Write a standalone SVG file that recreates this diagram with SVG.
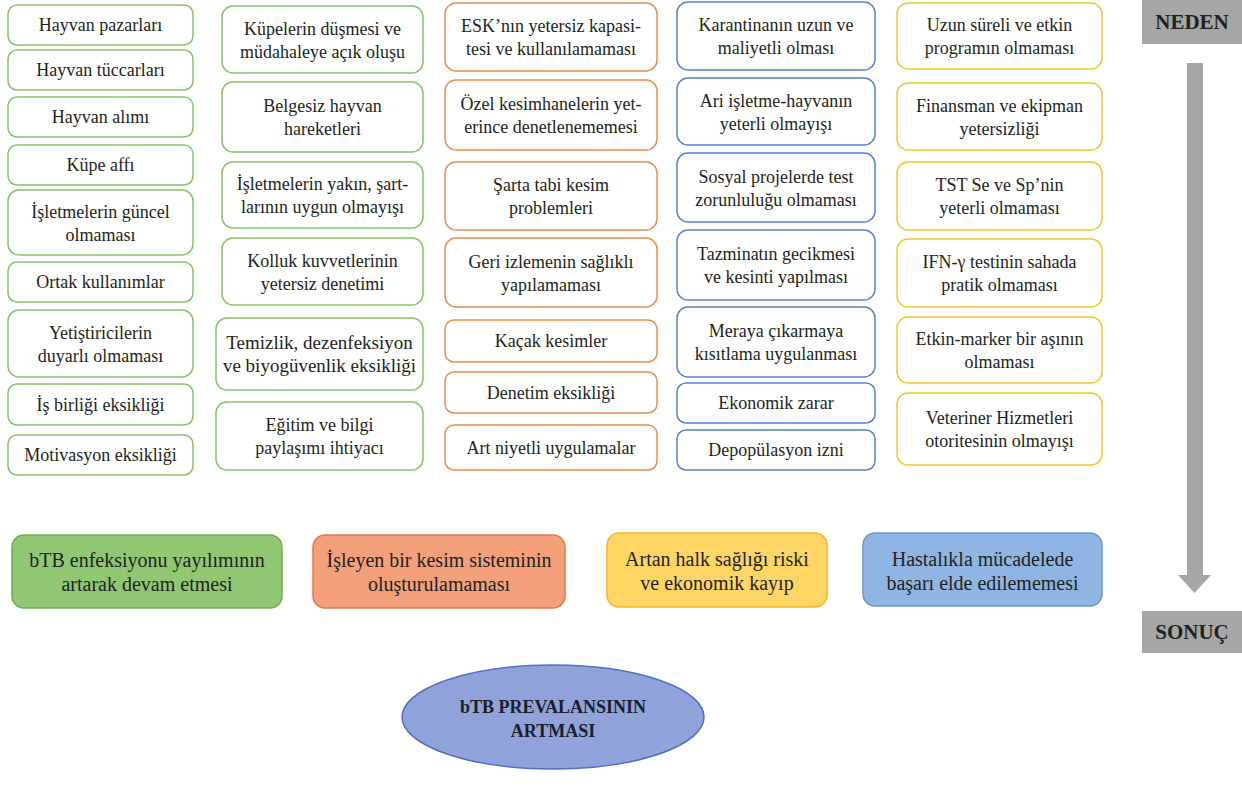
<svg xmlns="http://www.w3.org/2000/svg" width="1242" height="787" viewBox="0 0 1242 787">
<style>
text{font-family:"Liberation Serif","Times New Roman",serif;fill:#231f20;text-anchor:middle}
.t{font-size:18px}
.t2{font-size:19px}
.b{font-size:20px}
.h{font-size:21px;font-weight:bold}
.e{font-size:18px;font-weight:bold;fill:#1c1c2e}
rect.n{fill:#fff;stroke-width:1.5}
.g{stroke:#88c266}
.o{stroke:#ee8c4a}
.u{stroke:#5b80cf}
.y{stroke:#f2c629}
</style>
<rect width="1242" height="787" fill="#fff"/>
<g id="col1">
<g id="n1_1"><rect class="n g" x="8" y="5" width="185" height="40" rx="9"/><text class="t" x="100.5" y="31">Hayvan pazarları</text></g>
<g id="n1_2"><rect class="n g" x="8" y="50" width="185" height="40" rx="9"/><text class="t" x="100.5" y="76">Hayvan tüccarları</text></g>
<g id="n1_3"><rect class="n g" x="8" y="97" width="185" height="40" rx="9"/><text class="t" x="100.5" y="123">Hayvan alımı</text></g>
<g id="n1_4"><rect class="n g" x="8" y="145" width="185" height="40" rx="9"/><text class="t" x="100.5" y="171">Küpe affı</text></g>
<g id="n1_5"><rect class="n g" x="8" y="190" width="185" height="65" rx="11"/><text class="t" x="100.5" y="217.5">İşletmelerin güncel</text><text class="t" x="100.5" y="240.5">olmaması</text></g>
<g id="n1_6"><rect class="n g" x="8" y="262" width="185" height="40" rx="9"/><text class="t" x="100.5" y="288">Ortak kullanımlar</text></g>
<g id="n1_7"><rect class="n g" x="8" y="310" width="185" height="67" rx="11"/><text class="t" x="100.5" y="338.5">Yetiştiricilerin</text><text class="t" x="100.5" y="361.5">duyarlı olmaması</text></g>
<g id="n1_8"><rect class="n g" x="8" y="384" width="185" height="41" rx="9"/><text class="t" x="100.5" y="410.5">İş birliği eksikliği</text></g>
<g id="n1_9"><rect class="n g" x="8" y="435" width="185" height="40" rx="9"/><text class="t" x="100.5" y="461">Motivasyon eksikliği</text></g>
</g>
<g id="col2">
<g id="n2_1"><rect class="n g" x="222" y="6" width="201" height="67" rx="11"/><text class="t" x="322.5" y="34.5">Küpelerin düşmesi ve</text><text class="t" x="322.5" y="57.5">müdahaleye açık oluşu</text></g>
<g id="n2_2"><rect class="n g" x="222" y="82" width="201" height="70" rx="11"/><text class="t" x="322.5" y="112">Belgesiz hayvan</text><text class="t" x="322.5" y="135">hareketleri</text></g>
<g id="n2_3"><rect class="n g" x="222" y="162" width="201" height="66" rx="11"/><text class="t" x="322.5" y="190">İşletmelerin yakın, şart-</text><text class="t" x="322.5" y="213">larının uygun olmayışı</text></g>
<g id="n2_4"><rect class="n g" x="222" y="238" width="201" height="67" rx="11"/><text class="t" x="322.5" y="266.5">Kolluk kuvvetlerinin</text><text class="t" x="322.5" y="289.5">yetersiz denetimi</text></g>
<g id="n2_5"><rect class="n g" x="216" y="318" width="207" height="72" rx="11"/><text class="t2" x="319.5" y="349">Temizlik, dezenfeksiyon</text><text class="t2" x="319.5" y="372">ve biyogüvenlik eksikliği</text></g>
<g id="n2_6"><rect class="n g" x="216" y="402" width="207" height="68" rx="11"/><text class="t" x="319.5" y="431">Eğitim ve bilgi</text><text class="t" x="319.5" y="454">paylaşımı ihtiyacı</text></g>
</g>
<g id="col3">
<g id="n3_1"><rect class="n o" x="445" y="3" width="212" height="68" rx="11"/><text class="t" x="551" y="32">ESK’nın yetersiz kapasi-</text><text class="t" x="551" y="55">tesi ve kullanılamaması</text></g>
<g id="n3_2"><rect class="n o" x="445" y="80" width="212" height="70" rx="11"/><text class="t" x="551" y="110">Özel kesimhanelerin yet-</text><text class="t" x="551" y="133">erince denetlenememesi</text></g>
<g id="n3_3"><rect class="n o" x="445" y="162" width="212" height="68" rx="11"/><text class="t" x="551" y="191">Şarta tabi kesim</text><text class="t" x="551" y="214">problemleri</text></g>
<g id="n3_4"><rect class="n o" x="445" y="238" width="212" height="69" rx="11"/><text class="t" x="551" y="267.5">Geri izlemenin sağlıklı</text><text class="t" x="551" y="290.5">yapılamaması</text></g>
<g id="n3_5"><rect class="n o" x="445" y="320" width="212" height="42" rx="9"/><text class="t" x="551" y="347">Kaçak kesimler</text></g>
<g id="n3_6"><rect class="n o" x="445" y="372" width="212" height="41" rx="9"/><text class="t" x="551" y="398.5">Denetim eksikliği</text></g>
<g id="n3_7"><rect class="n o" x="445" y="425" width="212" height="45" rx="9"/><text class="t" x="551" y="453.5">Art niyetli uygulamalar</text></g>
</g>
<g id="col4">
<g id="n4_1"><rect class="n u" x="677" y="2" width="198" height="68" rx="11"/><text class="t" x="776" y="31">Karantinanın uzun ve</text><text class="t" x="776" y="54">maliyetli olması</text></g>
<g id="n4_2"><rect class="n u" x="677" y="78" width="198" height="67" rx="11"/><text class="t" x="776" y="106.5">Ari işletme-hayvanın</text><text class="t" x="776" y="129.5">yeterli olmayışı</text></g>
<g id="n4_3"><rect class="n u" x="677" y="153" width="198" height="69" rx="11"/><text class="t" x="776" y="182.5">Sosyal projelerde test</text><text class="t" x="776" y="205.5">zorunluluğu olmaması</text></g>
<g id="n4_4"><rect class="n u" x="677" y="230" width="198" height="70" rx="11"/><text class="t" x="776" y="260">Tazminatın gecikmesi</text><text class="t" x="776" y="283">ve kesinti yapılması</text></g>
<g id="n4_5"><rect class="n u" x="677" y="307" width="198" height="70" rx="11"/><text class="t" x="776" y="337">Meraya çıkarmaya</text><text class="t" x="776" y="360">kısıtlama uygulanması</text></g>
<g id="n4_6"><rect class="n u" x="677" y="383" width="198" height="40" rx="9"/><text class="t" x="776" y="409">Ekonomik zarar</text></g>
<g id="n4_7"><rect class="n u" x="677" y="430" width="198" height="40" rx="9"/><text class="t" x="776" y="456">Depopülasyon izni</text></g>
</g>
<g id="col5">
<g id="n5_1"><rect class="n y" x="897" y="3" width="205" height="66" rx="11"/><text class="t" x="999.5" y="31">Uzun süreli ve etkin</text><text class="t" x="999.5" y="54">programın olmaması</text></g>
<g id="n5_2"><rect class="n y" x="897" y="83" width="205" height="67" rx="11"/><text class="t" x="999.5" y="111.5">Finansman ve ekipman</text><text class="t" x="999.5" y="134.5">yetersizliği</text></g>
<g id="n5_3"><rect class="n y" x="897" y="162" width="205" height="68" rx="11"/><text class="t" x="999.5" y="191">TST Se ve Sp’nin</text><text class="t" x="999.5" y="214">yeterli olmaması</text></g>
<g id="n5_4"><rect class="n y" x="897" y="239" width="205" height="68" rx="11"/><text class="t" x="999.5" y="268">IFN-γ testinin sahada</text><text class="t" x="999.5" y="291">pratik olmaması</text></g>
<g id="n5_5"><rect class="n y" x="897" y="317" width="205" height="66" rx="11"/><text class="t" x="999.5" y="345">Etkin-marker bir aşının</text><text class="t" x="999.5" y="368">olmaması</text></g>
<g id="n5_6"><rect class="n y" x="897" y="393" width="205" height="72" rx="11"/><text class="t" x="999.5" y="424">Veteriner Hizmetleri</text><text class="t" x="999.5" y="447">otoritesinin olmayışı</text></g>
</g>
<g id="results">
<g id="r1"><rect x="12" y="535" width="270" height="73" rx="12" fill="#8fc772" stroke="#6fae4a" stroke-width="1.5"/><text class="b" x="147" y="567">bTB enfeksiyonu yayılımının</text><text class="b" x="147" y="591">artarak devam etmesi</text></g>
<g id="r2"><rect x="313" y="535" width="252" height="73" rx="12" fill="#f4a17b" stroke="#e27a44" stroke-width="1.5"/><text class="b" x="439" y="567">İşleyen bir kesim sisteminin</text><text class="b" x="439" y="591">oluşturulamaması</text></g>
<g id="r3"><rect x="607" y="533" width="220" height="74" rx="12" fill="#ffd563" stroke="#f3b623" stroke-width="1.5"/><text class="b" x="717" y="566">Artan halk sağlığı riski</text><text class="b" x="717" y="590">ve ekonomik kayıp</text></g>
<g id="r4"><rect x="863" y="533" width="239" height="73" rx="12" fill="#8fb5e3" stroke="#6d95cd" stroke-width="1.5"/><text class="b" x="982.5" y="566">Hastalıkla mücadelede</text><text class="b" x="982.5" y="590">başarı elde edilememesi</text></g>
</g>
<g id="final"><ellipse cx="553" cy="717" rx="151" ry="52" fill="#8fa3da" stroke="#4f70c0" stroke-width="1.5"/><text class="e" x="553" y="713">bTB PREVALANSININ</text><text class="e" x="553" y="737">ARTMASI</text></g>
<g id="neden"><rect x="1142" y="0" width="100" height="44" fill="#a6a6a6"/><text class="h" x="1192" y="29">NEDEN</text></g>
<g id="sonuc"><rect x="1142" y="611" width="100" height="42" fill="#a6a6a6"/><text class="h" x="1192" y="639">SONUÇ</text></g>
<g id="connectors"><rect x="1187" y="63" width="16" height="513" fill="#a6a6a6"/><polygon points="1178,575 1211,575 1194.5,593" fill="#a6a6a6"/></g>
</svg>
